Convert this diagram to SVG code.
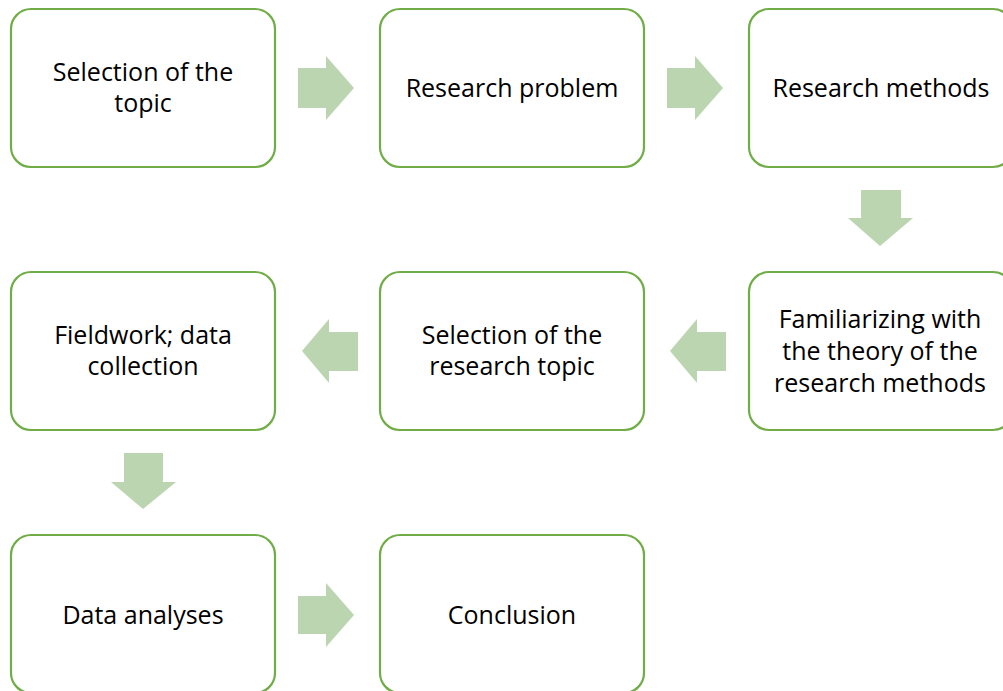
<svg xmlns="http://www.w3.org/2000/svg" width="1003" height="691" viewBox="0 0 1003 691">
<style>
.box{fill:#fff;stroke:#70AD47;stroke-width:2.2}
.arr{fill:#BBD5B1}
text{font-family:"Open Sans","Liberation Sans",sans-serif;font-size:25px;fill:#000;text-anchor:middle}
</style>
<rect width="1003" height="691" fill="#fff"/>
<g id="connectors">
<polygon class="arr" points="298,68 326,68 326,56 354,88 326,120 326,108 298,108"/>
<polygon class="arr" points="667,68 695,68 695,56 723,88 695,120 695,108 667,108"/>
<polygon class="arr" points="861,190 901,190 901,218 913,218 880,246 848,218 861,218"/>
<polygon class="arr" points="726,332 697,332 697,319 670,351 697,383 697,371 726,371"/>
<polygon class="arr" points="358,332 329,332 329,319 302,351 329,383 329,371 358,371"/>
<polygon class="arr" points="124,453 163,453 163,482 176,482 143,509 111,482 124,482"/>
<polygon class="arr" points="298,596 326,596 326,583 354,615 326,647 326,634 298,634"/>
</g>
<g id="n1"><rect class="box" x="11" y="9" width="264" height="158" rx="20"/><text x="143" y="81">Selection of the</text><text x="143" y="112">topic</text></g>
<g id="n2"><rect class="box" x="380" y="9" width="264" height="158" rx="20"/><text x="512" y="97">Research problem</text></g>
<g id="n3"><rect class="box" x="749" y="9" width="264" height="158" rx="20"/><text x="881" y="97">Research methods</text></g>
<g id="n4"><rect class="box" x="749" y="272" width="264" height="158" rx="20"/><text x="880" y="328">Familiarizing with</text><text x="880" y="360">the theory of the</text><text x="880" y="392">research methods</text></g>
<g id="n5"><rect class="box" x="380" y="272" width="264" height="158" rx="20"/><text x="512" y="344">Selection of the</text><text x="512" y="375">research topic</text></g>
<g id="n6"><rect class="box" x="11" y="272" width="264" height="158" rx="20"/><text x="143" y="344">Fieldwork; data</text><text x="143" y="375">collection</text></g>
<g id="n7"><rect class="box" x="11" y="535" width="264" height="158" rx="20"/><text x="143" y="624">Data analyses</text></g>
<g id="n8"><rect class="box" x="380" y="535" width="264" height="158" rx="20"/><text x="512" y="624">Conclusion</text></g>
</svg>
